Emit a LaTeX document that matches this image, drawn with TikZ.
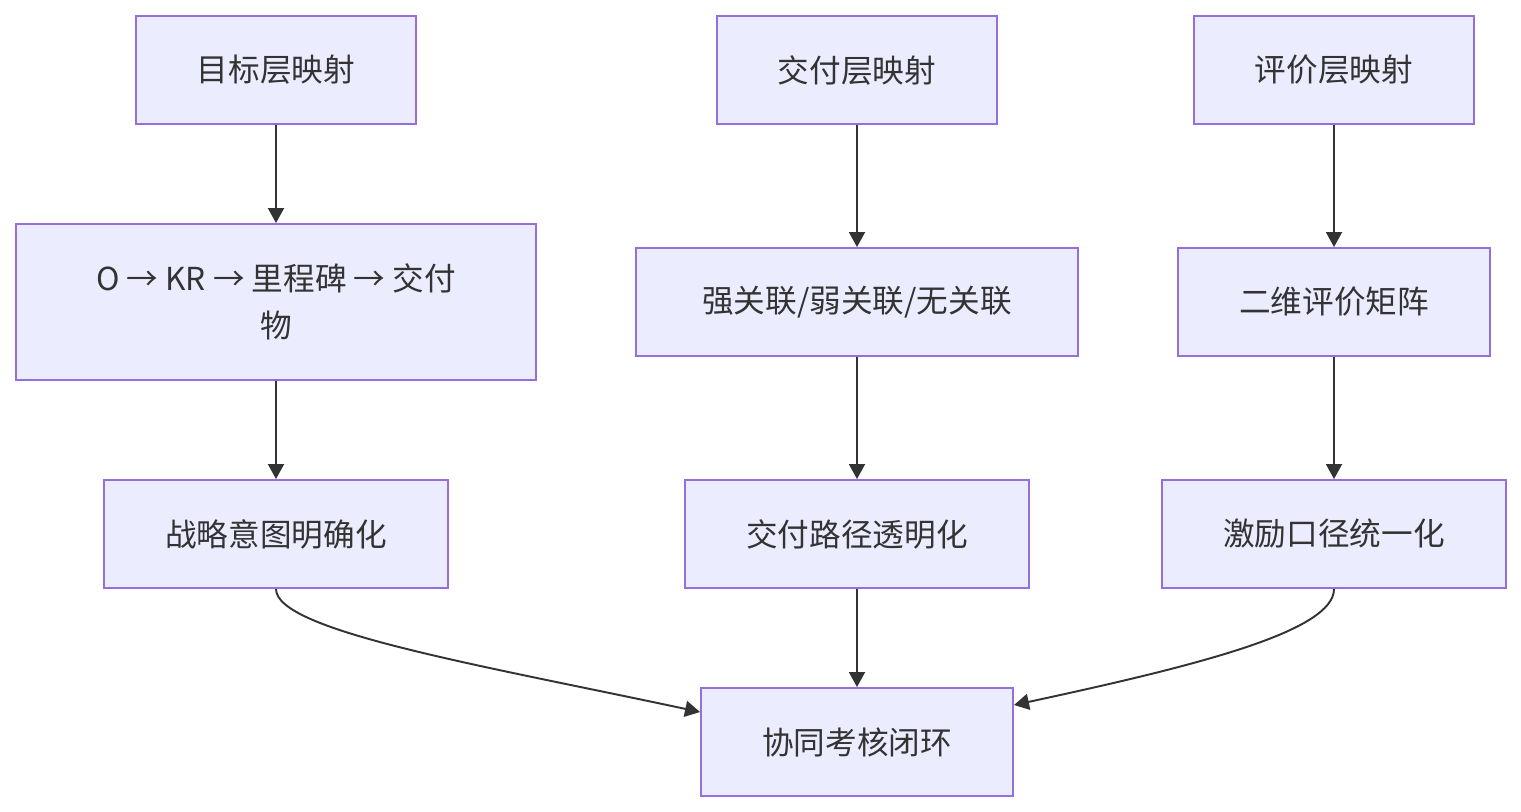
\documentclass[tikz,border=0pt]{standalone}
\usepackage{fontspec}
\setmainfont{Noto Sans CJK SC}
\usetikzlibrary{arrows.meta,calc}
\definecolor{boxfill}{HTML}{ECECFF}
\definecolor{boxline}{HTML}{9370DB}
\definecolor{ink}{HTML}{333333}
\tikzset{
  box/.style={draw=boxline,fill=boxfill,line width=1.1pt,text=ink,
    inner sep=0pt,align=center,font=\fontsize{18}{27}\selectfont},
  arr/.style={draw=ink,line width=1.1pt,-{Triangle[length=3mm,width=3.2mm]}}
}
\begin{document}
\begin{tikzpicture}[x=0.2mm,y=-0.2mm]
  \useasboundingbox[fill=white] (0,0) rectangle (1521,812);
  \node[box,minimum width=56mm,minimum height=21.6mm] (goal) at (276,70) {目标层映射};
  \node[box,minimum width=56mm,minimum height=21.6mm] (deliv) at (857,70) {交付层映射};
  \node[box,minimum width=56mm,minimum height=21.6mm] (eval) at (1334,70) {评价层映射};
  \node[box,minimum width=104mm,minimum height=31.2mm] (chain) at (276,302)
    {O → KR → 里程碑 → 交付\\物};
  \node[box,minimum width=88.4mm,minimum height=21.6mm] (link) at (857,302) {强关联/弱关联/无关联};
  \node[box,minimum width=62.4mm,minimum height=21.6mm] (matrix) at (1334,302) {二维评价矩阵};
  \node[box,minimum width=68.8mm,minimum height=21.6mm] (intent) at (276,534) {战略意图明确化};
  \node[box,minimum width=68.8mm,minimum height=21.6mm] (path) at (857,534) {交付路径透明化};
  \node[box,minimum width=68.8mm,minimum height=21.6mm] (incent) at (1334,534) {激励口径统一化};
  \node[box,minimum width=62.4mm,minimum height=21.6mm] (loop) at (857,742) {协同考核闭环};
  \draw[arr] (goal) -- (chain);
  \draw[arr] (chain) -- (intent);
  \draw[arr] (deliv) -- (link);
  \draw[arr] (link) -- (path);
  \draw[arr] (eval) -- (matrix);
  \draw[arr] (matrix) -- (incent);
  \draw[arr] (path) -- (loop);
  \draw[arr] (intent.south) .. controls ($(intent.south)+(0,42)$) and (480,665)
    .. ($(loop.north west)+(0,25)$);
  \draw[arr] (incent.south) .. controls ($(incent.south)+(0,42)$) and (1200,665)
    .. ($(loop.north east)+(0,18)$);
\end{tikzpicture}
\end{document}
